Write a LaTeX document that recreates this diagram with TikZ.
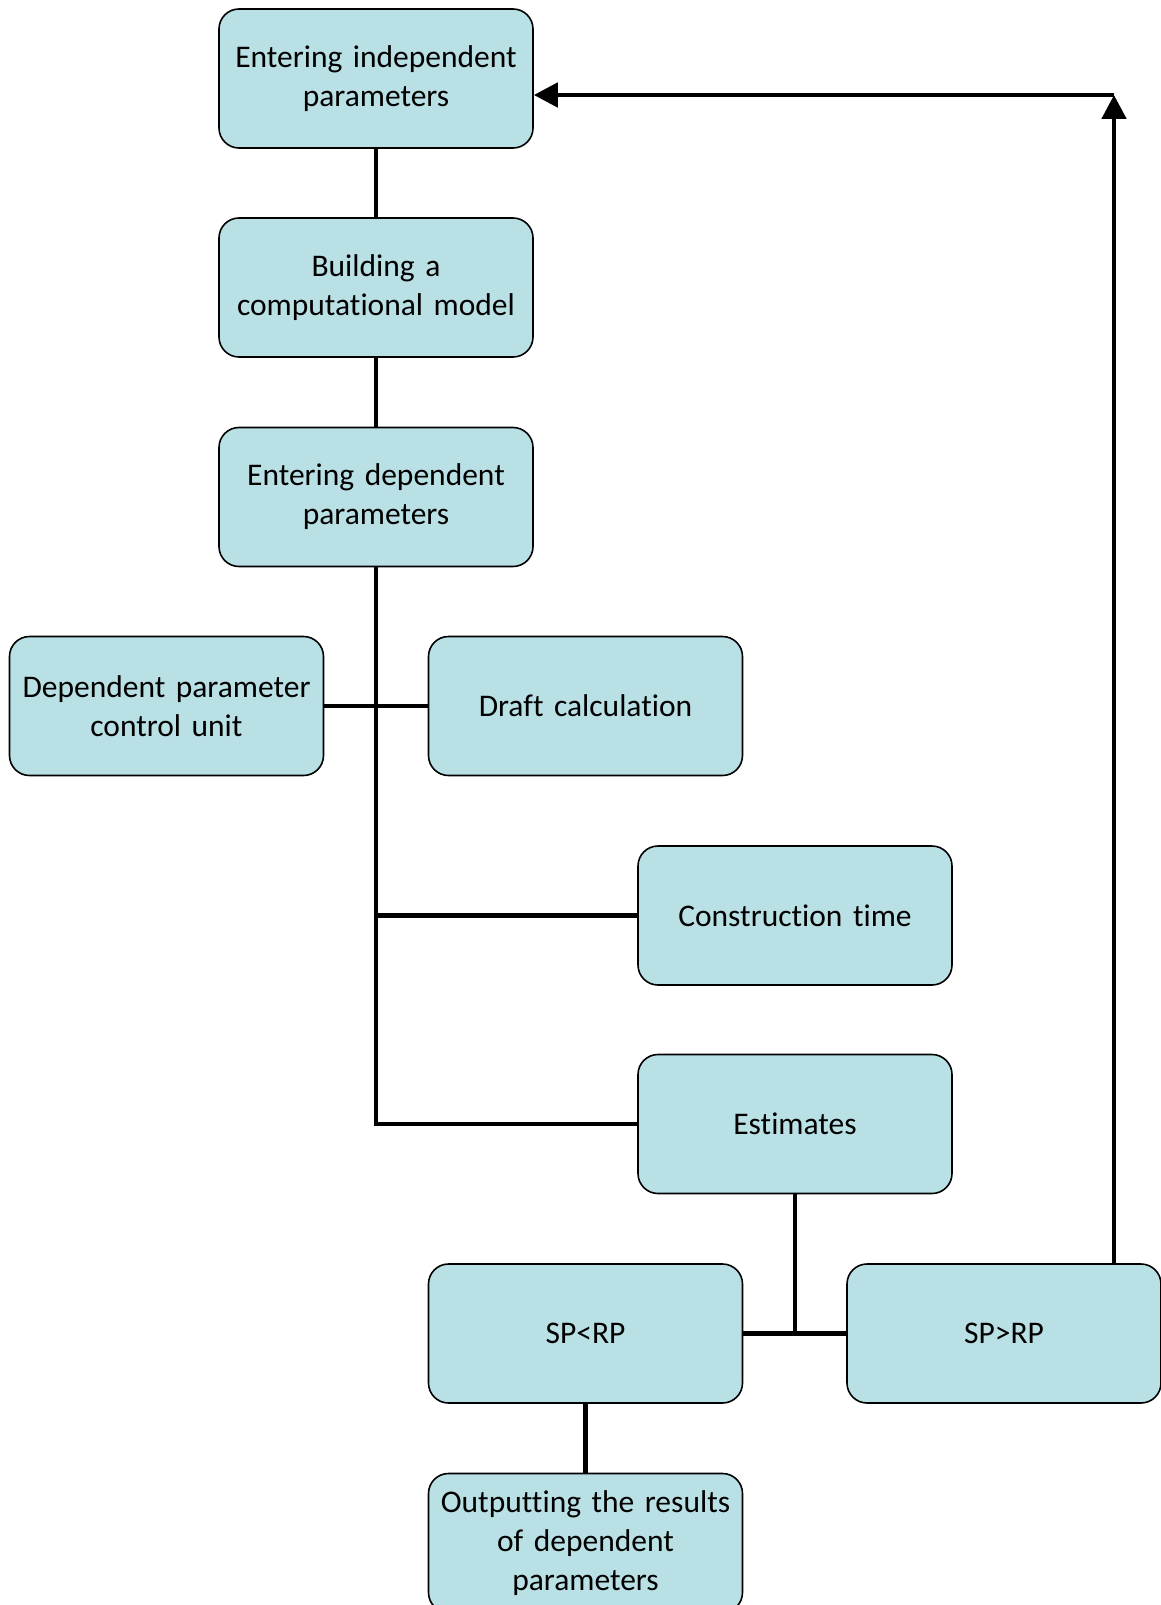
\documentclass[tikz,border=0pt]{standalone}
\usepackage{fontspec}
\setmainfont{Carlito}[Ligatures=NoCommon, WordSpace=0.85]
\usepackage{tikz}
\usetikzlibrary{arrows.meta,calc}

\definecolor{boxfill}{RGB}{185,224,228}

\begin{document}
\begin{tikzpicture}[x=1pt, y=-1pt,
    blok/.style={draw, line width=1.6pt, fill=boxfill, rounded corners=20pt,
        minimum width=314pt, minimum height=139pt, text width=312pt, align=center,
        font=\fontsize{31.5}{39}\selectfont, inner sep=0pt},
    link/.style={line width=4.8pt},
    feed/.style={line width=4.8pt, -{Triangle[length=24pt,width=24pt]}}]
    \useasboundingbox (0,0) rectangle (1160,1605);

    \node[blok] (indep) at (376,78.5) {Entering independent\\parameters};
    \node[blok] (model) at (376,287.5) {Building a\\computational model};
    \node[blok] (dep) at (376,497) {Entering dependent\\parameters};
    \node[blok] (ctrl) at (166.5,706) {Dependent parameter\\control unit};
    \node[blok] (draft) at (585.5,706) {Draft calculation};
    \node[blok] (time) at (795,915.5) {Construction time};
    \node[blok] (est) at (795,1124) {Estimates};
    \node[blok] (less) at (585.5,1333.5) {SP<RP};
    \node[blok] (more) at (1004,1333.5) {SP>RP};
    \node[blok] (out) at (585.5,1543) {Outputting the results\\of dependent\\parameters};

    \coordinate (top) at (1114,95);

    \draw[link] (indep) -- (model);
    \draw[link] (model) -- (dep);
    \draw[link] (dep.south) |- (est.west);
    \draw[link] (ctrl.east) -- (draft.west);
    \draw[link] (dep.south |- time.west) -- (time.west);
    \draw[link] (est.south) -- (est.south |- less.east);
    \draw[link] (less.east) -- (more.west);
    \draw[link] (less) -- (out);

    \draw[feed] (more.north -| top) -- (top);
    \draw[feed] (top) -- (indep.east |- top);
\end{tikzpicture}
\end{document}
